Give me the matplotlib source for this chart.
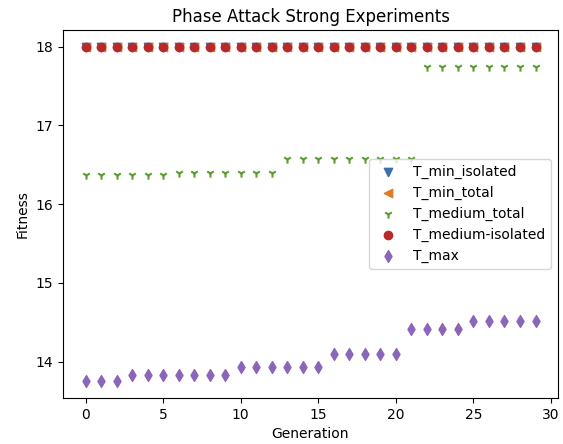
import matplotlib
matplotlib.use("Agg")
import matplotlib.pyplot as plt

generations = list(range(30))
t_min_isolated = [18.0] * 30
t_min_total = [18.0] * 30
t_medium_total = [16.37] * 6 + [16.39] * 7 + [16.58] * 9 + [17.74] * 8
t_medium_isolated = [18.0] * 30
t_max = [13.75] * 3 + [13.83] * 7 + [13.93] * 6 + [14.10] * 5 + [14.42] * 4 + [14.51] * 5

fig = plt.figure(figsize=(5.63, 4.44), dpi=100)
ax = fig.add_axes([63/563, 46/444, 495/563, 368/444])
ax.scatter(generations, t_min_isolated, marker='v', color='#3a6fae', label='T_min_isolated')
ax.scatter(generations, t_min_total, marker='<', color='#e07b28', label='T_min_total')
ax.scatter(generations, t_medium_total, marker='1', color='#5a9e32', label='T_medium_total')
ax.scatter(generations, t_medium_isolated, marker='o', color='#b82a2a', label='T_medium-isolated')
ax.scatter(generations, t_max, marker='d', color='#8a66bb', label='T_max')
ax.set_title('Phase Attack Strong Experiments')
ax.set_xlabel('Generation')
ax.set_ylabel('Fitness')
ax.legend(loc='center right')
fig.savefig('out.png', dpi=100)
